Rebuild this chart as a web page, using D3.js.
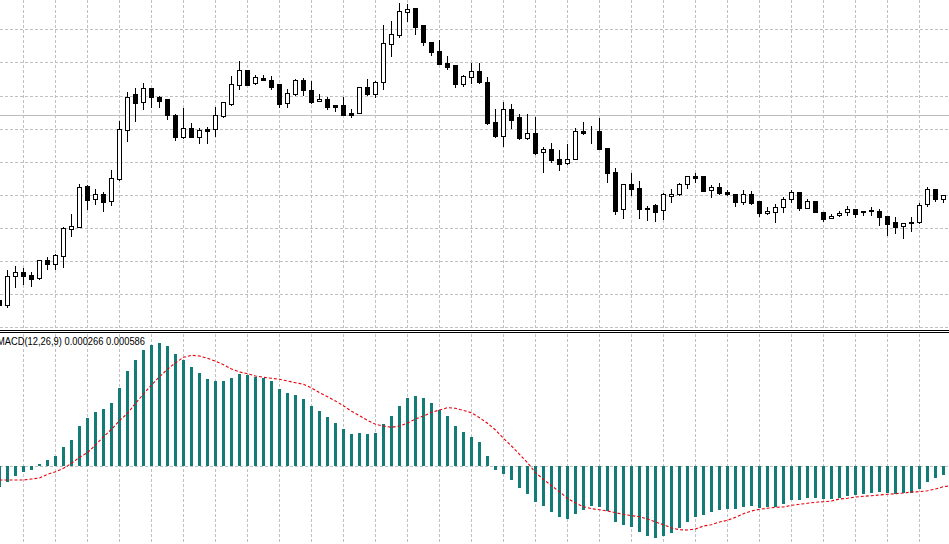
<!DOCTYPE html>
<html>
<head>
<meta charset="utf-8">
<script src="https://cdn.jsdelivr.net/npm/d3@7"></script>
<style>
html,body{margin:0;padding:0;background:#fff;overflow:hidden;}
svg{display:block;}
</style>
</head>
<body>
<svg id="chart" width="949" height="544"></svg>
<script>
// Bar indices (first one partly cut at the left edge)
const firstIndex = -1;
// Candle prices (chart units)
const open = [30,24.7,53.7,58,55,51.7,70,65.7,74.3,101.3,103.3,144,131.3,136,128.7,151.3,200.3,235,226.7,241,232.7,230,215,193.3,202,193.3,200.7,200.7,214.3,226.3,245.3,259.7,245.7,251.7,249.7,245.7,225.7,236.3,249.7,240,228.7,231,224,224.7,217,217.3,242.7,236.3,247.7,285.7,295.3,317.7,322,304.3,288,279,267,264.3,245,252.7,258,247.7,207.7,194.3,221,212,191.7,196.7,177.7,180.7,170.7,166.7,170.7,198.7,198.3,199,182,158,120.7,146,142,121.3,125,118.7,133.7,135.3,145.7,154,154,139.7,143,138,135.7,128.3,136,128,115.7,117.7,122.7,130.7,137.7,122.3,128.7,117.7,111.7,114.7,117.7,120.7,118,119.3,118.7,114,107.3,104.3,108,107.7,125.3,140,131.3];
const high = [32,60,64,62.3,58.3,70,72.7,76,103.3,116,146,145,141,138,160,209.3,238.3,242,247.3,242.3,234,231.3,216,222.3,207,202,203.3,223.3,227.7,254,268.7,260,254.7,254.7,254,245.7,240.7,251.3,252.3,249,236,233.3,224.7,233.3,221,243.3,251,249.3,304.7,309,326.7,325.7,322,304.3,288,290,274,264.3,255.3,266.7,266.7,252.7,221,228,225.7,215.7,215.7,213,183.3,186.7,179.7,186,201.7,208,204,212,182,161.7,145.7,157,149,124,126,137.3,140.7,147.3,153.7,157.3,154,145,147,140.3,135.7,139.7,139,128,123.3,126,133.3,139.7,137.7,130.7,128.7,117.7,116,119.3,123.7,120.7,119.3,123,121,114,113,106.7,112.7,127,143,140,134.7];
const low = [23,22.7,43.3,46.3,44.3,51.3,60.7,61.3,63.3,94.3,103,121,126,119.3,125.3,150,189.3,209.3,221.3,223.3,223.3,211.3,190.3,192.3,192.7,187.3,187.3,194,213.3,224.7,240.7,245.3,245.7,249.7,240.7,222.7,222.7,234.7,235.3,227,228.7,220.7,218.7,214.7,212.7,217.3,235.3,233.3,241.3,274.3,293.3,309,296.3,285,274.7,266.3,261.3,243.3,244,246.7,247.3,206,193.3,184.3,202.3,190.7,190.7,176,158.3,168,159.7,166,170.7,196.3,187.3,180.7,148.3,116.3,112.3,135,112.3,109.7,109.3,111.3,128.3,134.7,142.3,148,139.3,133.3,136.3,134.7,124.3,126.3,125.7,114.3,115.7,108.3,118,127.7,120.3,121.7,117.7,109.3,111.7,114,114.7,113.3,115.3,115.3,105,94.7,97,92,99.3,107,124,129.3,128.3];
const close = [25,54,57.7,54.3,51.3,69.7,65.7,74.7,101.7,103.7,142.7,130.3,135.7,128.3,151.7,200.7,233,226.3,241,232.3,229.3,214.3,193.3,201.7,193.3,199.7,199.3,214.7,227.7,245.7,259.7,245.3,252,249.7,243.3,225.7,236.3,249.7,240.3,227.7,231,222.7,222.3,214.7,215.3,242.7,236,248,286.7,295.7,318.7,320.7,303.3,287.3,278.3,266.3,263,245,253,259,247.3,206.7,194,220.7,210.3,191.3,196.7,177.3,181,170.3,165.7,170.7,198.7,197,198,181.3,157.3,119.3,145.7,141.3,120.7,120.3,118.3,135,136,145,153.7,152.3,139.3,142.7,137.3,136.3,127.7,136,127,116.3,118,122.7,130.7,137.7,122.3,128.7,117.7,111.3,114,117,120.7,116.3,116.7,117.7,113.3,106,102.3,106.7,106.7,125,140,130,134.7];
// Horizontal grid price levels and the grey horizontal line
const gridLevels = [2.3,35.4,68.5,101.6,134.7,167.8,200.9,234.0,267.1,300.2];
const hLineLevel = 214.5;
// MACD histogram and signal line (units of the MACD scale)
const macdHist = [-20.7,-16,-10,-6,-4,2,6,10,19.3,26,40,48,54,57,63,78.3,95,106,116,121,123,120,112.3,106.3,99,93.3,87,85,85,88.3,92.3,91.3,89.3,88.3,85.3,77.3,73.3,71,67,60.3,55.3,49.3,43,37,32.3,33,32.3,33,42,50,60,68.3,70,68,63,56,50,40,34,29,24,10,-3.7,-8,-14,-21.7,-28,-36,-39.7,-46,-50.7,-53,-48,-43.7,-40,-41,-44.7,-56,-58.7,-61,-66,-70,-71.7,-70,-66.7,-61.7,-55.7,-50.7,-48.7,-46,-44,-43,-43,-41,-39.7,-42,-41.3,-40.7,-37.7,-34,-34,-32,-32,-33,-33,-31.7,-29.7,-29,-27.7,-27,-26,-27,-27.7,-27.3,-27,-23,-16,-11.7,-8.7];
const macdSignal = [-14,-14,-14,-14,-13,-12,-8.3,-5.7,-2.3,2.7,8.7,13.3,21,29.3,36.7,45.3,52.7,62.7,72,81,89.3,96.7,103.3,108.7,110.7,110,107.7,104.7,101.3,97,94,92.3,90,88.7,87.7,86.7,85,83.3,81.7,78,73.3,69.3,65,60.3,54.7,50.3,45.7,41.7,40,38.7,40,43,47,50,53.7,56,58.3,57.7,55.5,53.3,48.3,42.7,36,27.7,20,11.7,3.3,-6.7,-13.3,-19.7,-25.7,-32.3,-37,-40.7,-42.7,-43.7,-45,-46.7,-48.3,-49.7,-50.7,-53,-56,-58.7,-62,-63.7,-64,-63,-60,-58.7,-56,-54.3,-51.3,-47.7,-45,-43.3,-42.3,-41.3,-41,-39.3,-38.3,-37.3,-36.3,-35.7,-35,-33,-32.3,-31,-30.3,-29.7,-29,-28.3,-27.7,-27,-26,-25.7,-24.7,-23,-20.7,-19.7];
const macdLabel = "MACD(12,26,9) 0.000266 0.000586";

const W = 949, H = 544;
const svg = d3.select("#chart");
const idx = d3.range(open.length).map(i => i + firstIndex);

const x = d3.scaleLinear().domain([-1, 117]).range([-0.5, 943.5]);
const y = d3.scaleLinear().domain([0, 330]).range([330, 0]);
const ym = d3.scaleLinear().domain([-78, 133]).range([544, 333]);
const px = v => Math.round(v) + 0.5;

const gridColor = "#c0c0c0";
const dash = "3,2";

// vertical grid (every 4th bar)
const vGrid = idx.filter(k => ((k - 2) % 4 + 4) % 4 === 0);
svg.append("g").selectAll("line").data(vGrid).join("line")
  .attr("x1", d => px(x(d) - 0.5)).attr("x2", d => px(x(d) - 0.5))
  .attr("y1", 0).attr("y2", 328)
  .attr("stroke", gridColor).attr("stroke-dasharray", dash);
svg.append("g").selectAll("line").data(vGrid).join("line")
  .attr("x1", d => px(x(d) - 0.5)).attr("x2", d => px(x(d) - 0.5))
  .attr("y1", 334).attr("y2", H)
  .attr("stroke", gridColor).attr("stroke-dasharray", dash);

// horizontal grid in price panel
svg.append("g").selectAll("line").data(gridLevels).join("line")
  .attr("x1", 0).attr("x2", W)
  .attr("y1", d => px(y(d) - 0.5)).attr("y2", d => px(y(d) - 0.5))
  .attr("stroke", gridColor).attr("stroke-dasharray", dash);

// grey horizontal level line
svg.append("line").attr("x1", 0).attr("x2", W)
  .attr("y1", px(y(hLineLevel) - 0.5)).attr("y2", px(y(hLineLevel) - 0.5))
  .attr("stroke", "#bcbcbc").attr("stroke-width", 1);

// candles
const candles = idx.map((k, i) => ({k, o: open[i], h: high[i], l: low[i], c: close[i]}));
const cg = svg.append("g");
cg.selectAll("line.wick").data(candles).join("line").attr("class", "wick")
  .attr("x1", d => px(x(d.k) - 0.5)).attr("x2", d => px(x(d.k) - 0.5))
  .attr("y1", d => Math.round(y(d.h))).attr("y2", d => Math.round(y(d.l)) + 1)
  .attr("stroke", "#000").attr("stroke-width", 1);
cg.selectAll("rect.body").data(candles).join("rect").attr("class", "body")
  .attr("x", d => px(x(d.k) - 0.5) - 2)
  .attr("width", 4)
  .attr("y", d => px(y(Math.max(d.o, d.c)) - 0.5))
  .attr("height", d => Math.max(0, Math.round(y(Math.min(d.o, d.c))) - Math.round(y(Math.max(d.o, d.c)))))
  .attr("fill", d => d.c >= d.o ? "#fff" : "#000")
  .attr("stroke", "#000").attr("stroke-width", 1);

// panel separator
svg.append("line").attr("x1", 0).attr("x2", W).attr("y1", 330.5).attr("y2", 330.5).attr("stroke", "#000");
svg.append("line").attr("x1", 0).attr("x2", W).attr("y1", 332.5).attr("y2", 332.5).attr("stroke", "#000");

// MACD zero line
svg.append("line").attr("x1", 0).attr("x2", W)
  .attr("y1", px(ym(0))).attr("y2", px(ym(0)))
  .attr("stroke", gridColor).attr("stroke-dasharray", dash);

// histogram
const hist = idx.map((k, i) => ({k, v: macdHist[i]}));
svg.append("g").selectAll("rect").data(hist).join("rect")
  .attr("x", d => Math.round(x(d.k) - 0.5) - 1)
  .attr("width", 3)
  .attr("y", d => Math.round(Math.min(ym(d.v), ym(0))))
  .attr("height", d => Math.max(1, Math.round(Math.abs(ym(d.v) - ym(0)))))
  .attr("fill", "#127d78");

// signal line
const sig = macdSignal.map((v, i) => ({k: i + firstIndex, v}));
svg.append("path").datum(sig)
  .attr("d", d3.line().x(d => x(d.k)).y(d => ym(d.v)))
  .attr("fill", "none").attr("stroke", "#e8000b").attr("stroke-width", 1.1)
  .attr("stroke-dasharray", "3,2");

// label
svg.append("text").attr("x", -3).attr("y", 345)
  .attr("font-family", "Liberation Sans, Arial, sans-serif")
  .attr("font-size", 10.5)
  .attr("textLength", 148).attr("lengthAdjust", "spacingAndGlyphs")
  .attr("fill", "#000")
  .text(macdLabel);
</script>
</body>
</html>
